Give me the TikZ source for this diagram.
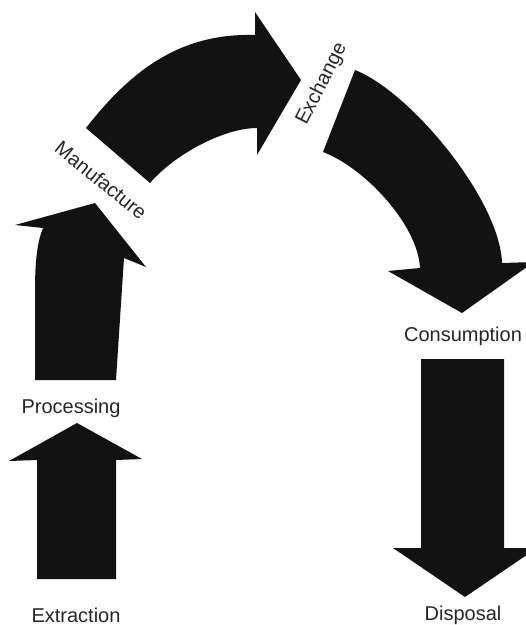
\documentclass[tikz,border=0pt]{standalone}
\usepackage{fontspec}
\setmainfont{Liberation Sans}
\begin{document}
\begin{tikzpicture}[x=1pt,y=-1pt,
  flow/.style={fill=black!93, draw=none},
  stage/.style={font=\fontsize{20}{24}\selectfont, text=black!85, inner sep=0pt}]
\useasboundingbox (0,0) rectangle (526,625);
\clip (0,0) rectangle (526,625);

% Extraction -> Processing
\fill[flow] (37,579) -- (37,460) -- (9,461) -- (77,423) -- (142,459)
  -- (116,460) -- (116,579) -- cycle;

% Processing -> Manufacture, leaning slightly clockwise
\fill[flow] (35,380) -- (35,290) .. controls (35,258) and (38,240) .. (43,228)
  -- (15,225) -- (95,203) -- (146,267) -- (124,258) -- (116,380) -- cycle;

% Manufacture -> Exchange
\fill[flow] (86,128) .. controls (135,65) and (185,33) .. (255,35)
  -- (255,12) -- (301,80) -- (257,155) -- (257,128)
  .. controls (225,128) and (176,153) .. (150,183) -- cycle;

% Exchange -> Consumption
\fill[flow] (355,70) .. controls (411,92) and (500,200) .. (502,263)
  -- (534,262) -- (462,313) -- (388,271) -- (420,268)
  .. controls (418,225) and (365,168) .. (323,152) -- cycle;

% Consumption -> Disposal
\fill[flow] (421,359) -- (504,359) -- (504,548) -- (537,548) -- (465,597)
  -- (393,548) -- (421,548) -- cycle;

% Stage labels
\node[stage, anchor=base] (extraction) at (76,622) {Extraction};
\node[stage, anchor=base] (processing) at (71,413) {Processing};
\node[stage, rotate=-39] (manufacture) at (101,180) {Manufacture};
\node[stage, rotate=63] (exchange) at (322,84) {Exchange};
\node[stage, anchor=base] (consumption) at (463,341) {Consumption};
\node[stage, anchor=base] (disposal) at (463,620) {Disposal};
\end{tikzpicture}
\end{document}
